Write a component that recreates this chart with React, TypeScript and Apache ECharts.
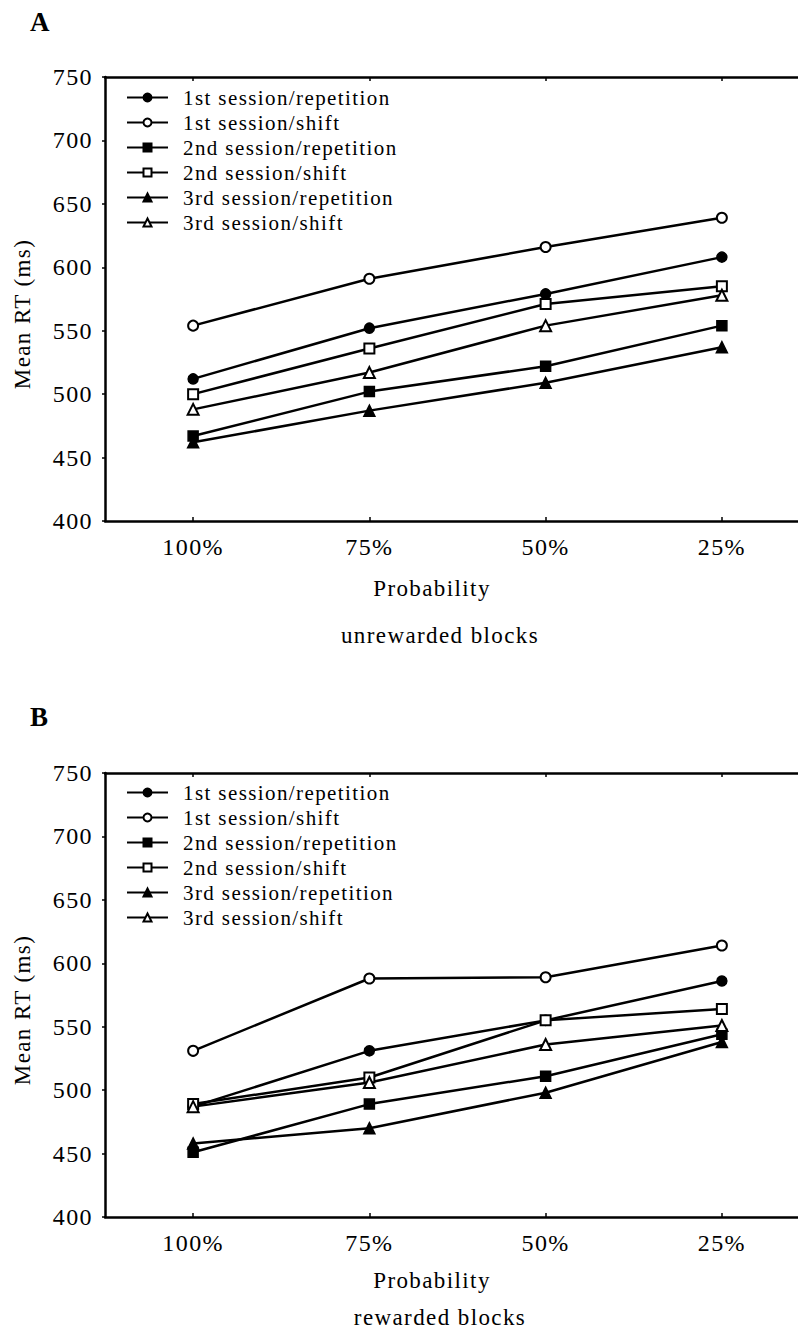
import React, { useEffect, useRef } from "react";
import * as echarts from "echarts";

const categories = ["100%", "75%", "50%", "25%"];
const seriesNames = [
  "1st session/repetition",
  "1st session/shift",
  "2nd session/repetition",
  "2nd session/shift",
  "3rd session/repetition",
  "3rd session/shift",
];
const symbols = ["circle", "emptyCircle", "rect", "emptyRect", "triangle", "emptyTriangle"];

// Panel A: unrewarded blocks
const aRep1 = [512, 552, 579, 608];
const aShift1 = [554, 591, 616, 639];
const aRep2 = [467, 502, 522, 554];
const aShift2 = [500, 536, 571, 585];
const aRep3 = [462, 487, 509, 537];
const aShift3 = [488, 517, 554, 578];

// Panel B: rewarded blocks
const bRep1 = [487, 531, 555, 586];
const bShift1 = [531, 588, 589, 614];
const bRep2 = [451, 489, 511, 544];
const bShift2 = [489, 510, 555, 564];
const bRep3 = [458, 470, 498, 538];
const bShift3 = [487, 506, 536, 551];

const panelA = [aRep1, aShift1, aRep2, aShift2, aRep3, aShift3];
const panelB = [bRep1, bShift1, bRep2, bShift2, bRep3, bShift3];

const FONT = "'Liberation Serif', 'Times New Roman', serif";

export default function App() {
  const ref = useRef<HTMLDivElement>(null);
  useEffect(() => {
    if (!ref.current) return;
    const chart = echarts.init(ref.current, null, { renderer: "svg" });
    const grids = [
      { left: 105, top: 77, height: 444, width: 705 },
      { left: 105, top: 773, height: 444, width: 705 },
    ];
    const xAxisBottom = grids.map((_, i) => ({
      type: "category",
      gridIndex: i,
      position: "bottom",
      data: categories,
      boundaryGap: true,
      axisLine: { lineStyle: { color: "#000", width: 2.5 } },
      axisTick: { show: true, inside: true, length: 4, alignWithLabel: true, lineStyle: { color: "#000", width: 1.5 } },
      axisLabel: { color: "#000", fontFamily: FONT, fontSize: 24, margin: 14 },
      splitLine: { show: false },
    }));
    const xAxisTop = grids.map((_, i) => ({
      type: "category",
      gridIndex: i,
      position: "top",
      data: categories,
      boundaryGap: true,
      axisLine: { lineStyle: { color: "#000", width: 2.5 } },
      axisTick: { show: true, inside: true, length: 4, alignWithLabel: true, lineStyle: { color: "#000", width: 1.5 } },
      axisLabel: { show: false },
      splitLine: { show: false },
    }));
    const yAxis = grids.map((_, i) => ({
      type: "value",
      gridIndex: i,
      min: 400,
      max: 750,
      interval: 50,
      axisLine: { show: true, lineStyle: { color: "#000", width: 2.5 } },
      axisTick: { show: true, length: 3, lineStyle: { color: "#000", width: 1.5 } },
      axisLabel: { color: "#000", fontFamily: FONT, fontSize: 24, margin: 12 },
      splitLine: { show: false },
    }));
    const makeSeries = (data: number[][], idx: number) =>
      data.map((d, k) => ({
        name: seriesNames[k],
        type: "line",
        xAxisIndex: idx,
        yAxisIndex: idx,
        data: d,
        symbol: symbols[k],
        symbolSize: k >= 4 ? 11 : 10,
        showAllSymbol: true,
        lineStyle: { color: "#000", width: 2.5 },
        itemStyle: { color: "#000", borderColor: "#000", borderWidth: 1.5 },
        emphasis: { disabled: true },
        z: k % 2 === 1 ? 4 : 3,
      }));
    const legendBase = {
      orient: "vertical",
      left: 126,
      padding: 0,
      itemWidth: 41,
      itemHeight: 10,
      itemGap: 4,
      selectedMode: false,
      inactiveColor: "#000",
      data: seriesNames,
      textStyle: { color: "#000", fontFamily: FONT, fontSize: 21, lineHeight: 21, padding: [0, 0, 0, 10] },
    };
    const textStyle = (size: number) => ({
      fill: "#000",
      font: `normal ${size}px ${FONT}`,
      textAlign: "center",
      textVerticalAlign: "middle",
    });
    const titleTexts = (yOff: number, letter: string, sub: string, labelY: number, probY: number, subY: number) => [
      { type: "text", left: 30, top: yOff, style: { text: letter, fill: "#000", font: `bold 27px ${FONT}` } },
      { type: "text", x: 22, y: labelY, rotation: Math.PI / 2, style: { text: "Mean RT (ms)", ...textStyle(23) } },
      { type: "text", x: 432, y: probY, style: { text: "Probability", ...textStyle(23) } },
      { type: "text", x: 440, y: subY, style: { text: sub, ...textStyle(23) } },
    ];
    chart.setOption({
      animation: false,
      backgroundColor: "#fff",
      grid: grids.map((g) => ({ ...g, show: false, containLabel: false, outerBoundsMode: "none" })),
      xAxis: [...xAxisBottom, ...xAxisTop],
      yAxis,
      legend: [
        { ...legendBase, top: 87 },
        { ...legendBase, top: 782 },
      ],
      series: [...makeSeries(panelA, 0), ...makeSeries(panelB, 1)],
      graphic: [
        ...titleTexts(8, "A", "unrewarded blocks", 314, 588, 635),
        ...titleTexts(703, "B", "rewarded blocks", 1010, 1280, 1317),
      ],
    });
    return () => chart.dispose();
  }, []);
  return (
    <div
      ref={ref}
      style={{
        position: "absolute",
        left: 0,
        top: 0,
        width: 798,
        height: 1332,
        background: "#fff",
        letterSpacing: "1.4px",
      }}
    />
  );
}
